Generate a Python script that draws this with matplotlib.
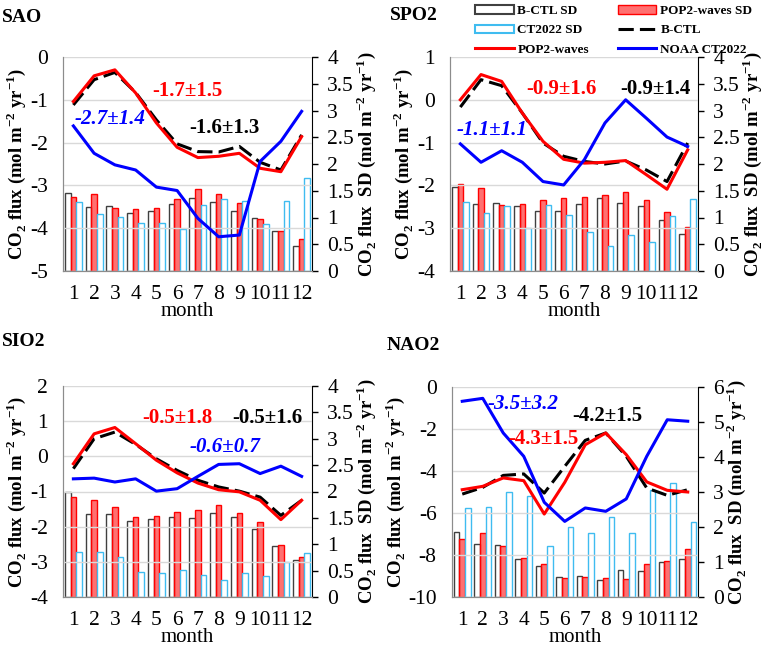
import matplotlib
matplotlib.use('Agg')
import matplotlib.pyplot as plt
import numpy as np
from matplotlib.patches import Patch
from matplotlib.lines import Line2D

plt.rcParams['font.family'] = ['Liberation Serif', 'DejaVu Serif']
plt.rcParams['mathtext.fontset'] = 'custom'
plt.rcParams['mathtext.rm'] = 'Liberation Serif'
plt.rcParams['mathtext.bf'] = 'Liberation Serif:bold'

months = np.arange(1, 13)
month_labels = [str(m) for m in months]

# ---- SAO ----
sao_pop2 = [-1.04, -0.44, -0.30, -0.84, -1.54, -2.11, -2.35, -2.32, -2.25, -2.60, -2.68, -1.86]
sao_bctl = [-1.12, -0.53, -0.36, -0.83, -1.47, -2.03, -2.21, -2.22, -2.09, -2.46, -2.64, -1.82]
sao_ct = [-1.61, -2.25, -2.52, -2.64, -3.04, -3.12, -3.77, -4.20, -4.16, -2.44, -1.97, -1.27]
sao_bctl_sd = [1.45, 1.20, 1.22, 1.08, 1.12, 1.25, 1.36, 1.29, 1.12, 0.99, 0.74, 0.47]
sao_pop2_sd = [1.38, 1.44, 1.18, 1.16, 1.17, 1.34, 1.53, 1.43, 1.28, 0.97, 0.74, 0.60]
sao_ct_sd = [1.29, 1.06, 1.01, 0.90, 0.89, 0.78, 1.23, 1.34, 1.31, 0.87, 1.30, 1.73]

# ---- SPO2 ----
spo_pop2 = [0.00, 0.59, 0.43, -0.31, -0.97, -1.39, -1.48, -1.46, -1.42, -1.75, -2.09, -1.17]
spo_bctl = [-0.17, 0.47, 0.33, -0.31, -1.01, -1.32, -1.44, -1.50, -1.43, -1.64, -1.91, -1.01]
spo_ct = [-1.03, -1.46, -1.19, -1.46, -1.91, -1.99, -1.40, -0.54, 0.00, -0.43, -0.87, -1.09]
spo_bctl_sd = [1.57, 1.25, 1.28, 1.22, 1.12, 1.12, 1.25, 1.36, 1.27, 1.22, 0.95, 0.70]
spo_pop2_sd = [1.62, 1.55, 1.24, 1.26, 1.33, 1.37, 1.39, 1.42, 1.48, 1.33, 1.10, 0.82]
spo_ct_sd = [1.29, 1.08, 1.22, 0.80, 1.24, 1.04, 0.72, 0.47, 0.67, 0.54, 1.02, 1.35]

# ---- SIO2 ----
sio_pop2 = [-0.21, 0.64, 0.82, 0.36, -0.11, -0.47, -0.76, -0.95, -1.01, -1.25, -1.80, -1.25]
sio_bctl = [-0.35, 0.50, 0.69, 0.34, -0.07, -0.40, -0.68, -0.87, -0.99, -1.16, -1.68, -1.25]
sio_ct = [-0.64, -0.62, -0.73, -0.64, -0.99, -0.92, -0.57, -0.23, -0.21, -0.49, -0.28, -0.57]
sio_bctl_sd = [1.99, 1.58, 1.58, 1.44, 1.48, 1.52, 1.49, 1.59, 1.52, 1.28, 0.97, 0.71]
sio_pop2_sd = [1.90, 1.83, 1.71, 1.52, 1.53, 1.61, 1.64, 1.75, 1.59, 1.42, 0.98, 0.75]
sio_ct_sd = [0.85, 0.85, 0.76, 0.47, 0.45, 0.51, 0.41, 0.32, 0.45, 0.39, 0.66, 0.84]

# ---- NAO2 ----
nao_pop2 = [-4.89, -4.73, -4.33, -4.46, -6.05, -4.54, -2.75, -2.19, -3.22, -4.52, -4.92, -5.00]
nao_bctl = [-5.10, -4.78, -4.21, -4.14, -5.05, -3.78, -2.54, -2.19, -3.30, -4.81, -5.16, -4.89]
nao_ct = [-0.68, -0.54, -2.19, -3.30, -5.49, -6.40, -5.76, -5.92, -5.33, -3.30, -1.56, -1.63]
nao_bctl_sd = [1.86, 1.51, 1.48, 1.10, 0.88, 0.57, 0.60, 0.49, 0.78, 0.73, 0.99, 1.10]
nao_pop2_sd = [1.66, 1.83, 1.45, 1.12, 0.94, 0.54, 0.58, 0.54, 0.51, 0.94, 1.03, 1.37]
nao_ct_sd = [2.54, 2.56, 2.99, 2.90, 1.47, 2.00, 1.83, 2.29, 1.83, 3.07, 3.26, 2.13]

RED = '#ff0000'
BLUE = '#0000ff'
SKY = '#3fbcf0'
GRAYEDGE = '#404040'
REDFILL = (1.0, 0.2, 0.2, 0.7)

W, H = 765, 647


def px_axes(x0, x1, y0, y1):
    return [x0 / W, 1 - y1 / H, (x1 - x0) / W, (y1 - y0) / H]


def panel(fig, rect, title, title_xy, pop2, bctl, ct, bctl_sd, pop2_sd, ct_sd,
          ylim, ystep, y2lim, y2step, notes):
    ax = fig.add_axes(rect)
    ax2 = ax.twinx()
    ax.set_zorder(ax2.get_zorder() + 1)
    ax.patch.set_visible(False)

    w = 0.27
    ax2.bar(months - w, bctl_sd, w, facecolor='white', edgecolor=GRAYEDGE, linewidth=1)
    ax2.bar(months, pop2_sd, w, facecolor=REDFILL, edgecolor=RED, linewidth=1)
    ax2.bar(months + w, ct_sd, w, facecolor='white', edgecolor=SKY, linewidth=1)

    ax.plot(months, bctl, color='black', lw=2.2, linestyle=(0, (5, 2)), zorder=3)
    ax.plot(months, pop2, color=RED, lw=2.2, zorder=4)
    ax.plot(months, ct, color=BLUE, lw=2.2, zorder=4)

    ax.set_xlim(0.5, 12.5)
    ax.set_ylim(*ylim)
    t1 = np.arange(ylim[0], ylim[1] + 0.01, ystep)
    ax.set_yticks(t1)
    ax.set_yticklabels(['%g' % v for v in t1])
    ax.grid(axis='y', color='#d9d9d9', lw=1)
    ax.set_axisbelow(True)
    ax.set_xticks(months)
    ax.set_xticklabels(month_labels)
    ax.tick_params(axis='y', length=0, pad=11, labelsize=15.5)
    ax.tick_params(axis='x', length=0, pad=10, labelsize=15.5)

    ax2.set_ylim(*y2lim)
    t2 = np.arange(y2lim[0], y2lim[1] + 0.01, y2step)
    ax2.set_yticks(t2)
    ax2.set_yticklabels(['%g' % v for v in t2])
    ax2.tick_params(axis='y', length=4, width=1, pad=7, labelsize=15.5, direction='out')

    for a in (ax, ax2):
        a.spines['top'].set_visible(False)
        a.spines['left'].set_color('#8c8c8c')
        a.spines['bottom'].set_color('#8c8c8c')
        a.spines['right'].set_color('black')
    ax.spines['right'].set_visible(False)

    ax.set_xlabel('month', fontsize=15, labelpad=-1)
    ax.set_ylabel(r'CO$_\mathbf{2}$ flux (mol m$^{\mathbf{-2}}$ yr$^{\mathbf{-1}}$)',
                  fontsize=13.5, fontweight='bold', labelpad=1)
    ax2.set_ylabel(r'CO$_\mathbf{2}$ flux  SD (mol m$^{\mathbf{-2}}$ yr$^{\mathbf{-1}}$)',
                   fontsize=13.5, fontweight='bold', labelpad=0)

    for txt, xf, yf, col, ital in notes:
        ax.text(xf, yf, txt, transform=ax.transAxes, color=col, fontsize=15,
                fontweight='bold', style='italic' if ital else 'normal',
                ha='center', va='center', zorder=6)

    fig.text(title_xy[0] / W, 1 - title_xy[1] / H, title, fontsize=14,
             fontweight='bold', ha='left', va='center')
    return ax


fig = plt.figure(figsize=(W / 100, H / 100), dpi=100)

panel(fig, px_axes(63, 312, 57, 271), 'SAO', (2, 17),
      sao_pop2, sao_bctl, sao_ct, sao_bctl_sd, sao_pop2_sd, sao_ct_sd,
      (-5, 0), 1, (0, 4), 0.5,
      [('-1.7±1.5', 0.50, 0.84, RED, False),
       ('-2.7±1.4', 0.19, 0.71, BLUE, True),
       ('-1.6±1.3', 0.65, 0.67, 'black', False)])

panel(fig, px_axes(450, 698, 57, 271), 'SPO2', (390, 16),
      spo_pop2, spo_bctl, spo_ct, spo_bctl_sd, spo_pop2_sd, spo_ct_sd,
      (-4, 1), 1, (0, 4), 0.5,
      [('-0.9±1.6', 0.45, 0.85, RED, False),
       ('-0.9±1.4', 0.83, 0.85, 'black', False),
       ('-1.1±1.1', 0.17, 0.66, BLUE, True)])

panel(fig, px_axes(63, 312, 386, 597), 'SIO2', (2, 341),
      sio_pop2, sio_bctl, sio_ct, sio_bctl_sd, sio_pop2_sd, sio_ct_sd,
      (-4, 2), 1, (0, 4), 0.5,
      [('-0.5±1.8', 0.46, 0.85, RED, False),
       ('-0.5±1.6', 0.82, 0.85, 'black', False),
       ('-0.6±0.7', 0.65, 0.71, BLUE, True)])

panel(fig, px_axes(452, 698, 387, 597), 'NAO2', (387, 345),
      nao_pop2, nao_bctl, nao_ct, nao_bctl_sd, nao_pop2_sd, nao_ct_sd,
      (-10, 0), 2, (0, 6), 1,
      [('-3.5±3.2', 0.29, 0.92, BLUE, True),
       ('-4.2±1.5', 0.63, 0.86, 'black', False),
       ('-4.3±1.5', 0.37, 0.75, RED, False)])

# legend: column-first order so rows read like the original
handles = [
    Patch(facecolor='white', edgecolor=GRAYEDGE, linewidth=1.5),
    Patch(facecolor='white', edgecolor=SKY, linewidth=1.5),
    Line2D([], [], color=RED, lw=2.2),
    Patch(facecolor=REDFILL, edgecolor=RED, linewidth=1),
    Line2D([], [], color='black', lw=2.2, linestyle=(0, (5, 2))),
    Line2D([], [], color=BLUE, lw=2.2),
]
labels = ['B-CTL SD', 'CT2022 SD', 'POP2-waves',
          'POP2-waves SD', 'B-CTL', 'NOAA CT2022']
fig.legend(handles, labels, ncol=2, loc='upper left',
           bbox_to_anchor=(466 / W, 1 + 4 / H), frameon=False,
           prop={'family': 'Liberation Serif', 'weight': 'bold', 'size': 9.5},
           handlelength=2.9, handleheight=0.6, handletextpad=0.3,
           labelspacing=0.55, columnspacing=2.2, borderpad=0.2)

fig.savefig('out.png', dpi=100)
